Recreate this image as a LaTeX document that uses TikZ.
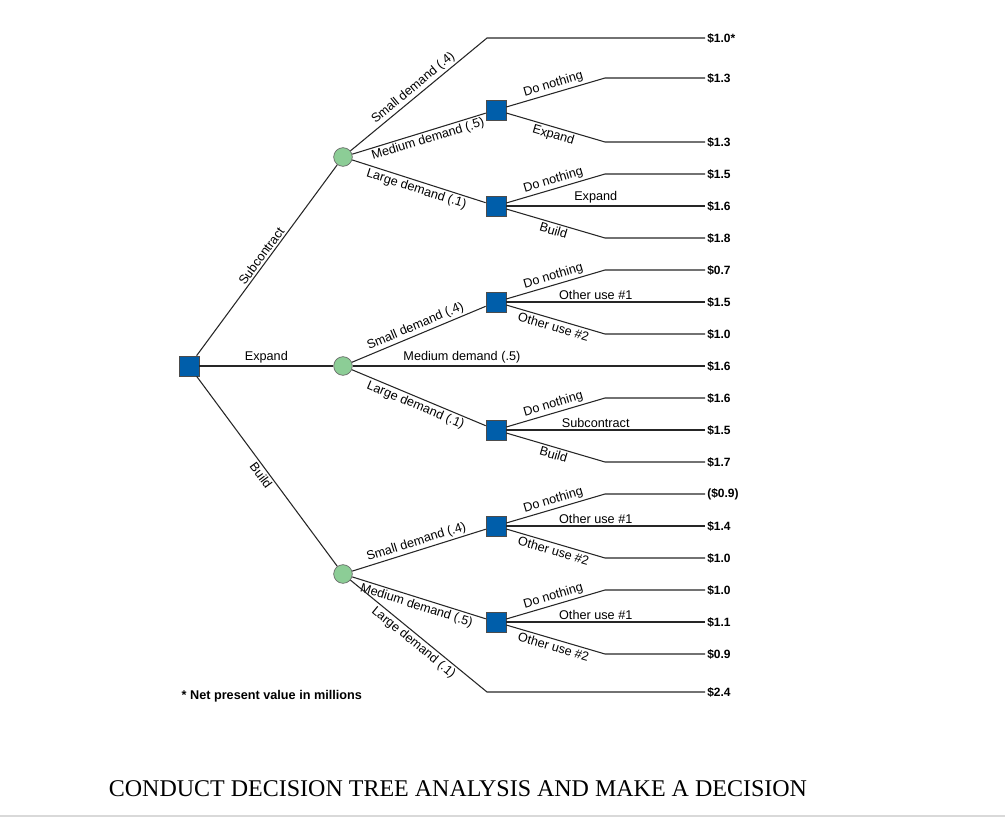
\documentclass[tikz,border=0pt]{standalone}
\usepackage{fontspec}
\setmainfont{Liberation Sans}
\newfontfamily\ser{Liberation Serif}
\begin{document}
\begin{tikzpicture}[x=0.75pt,y=-0.75pt,
  br/.style={draw=black!85,line width=0.8pt},
  dec/.style={draw=black!70,minimum size=15pt,inner sep=0pt,line width=0.5pt},
  chn/.style={circle,draw=black!60,minimum size=14pt,inner sep=0pt,line width=0.5pt},
  lab/.style={font=\fontsize{9.5}{10}\selectfont,sloped,inner sep=1.5pt},
  val/.style={font=\bfseries\fontsize{9}{10}\selectfont,anchor=west,inner sep=1.5pt}]
\useasboundingbox (0,0) rectangle (1005,821);
\definecolor{dblue}{RGB}{0,94,170}
\definecolor{lgreen}{RGB}{140,205,150}
\tikzset{dec/.append style={fill=dblue},chn/.append style={fill=lgreen}}
% nodes
\node[dec] (r) at (189,366) {};
\node[chn] (c1) at (343,157) {};
\node[chn] (c2) at (343,366) {};
\node[chn] (c3) at (343,574) {};
\node[dec] (d1) at (496,110) {};
\node[dec] (d2) at (496,206) {};
\node[dec] (d3) at (496,302) {};
\node[dec] (d4) at (496,430) {};
\node[dec] (d5) at (496,526) {};
\node[dec] (d6) at (496,622) {};
% leaf coordinates
\foreach \i/\y in {1/38,2/78,3/142,4/174,5/206,6/238,7/270,8/302,9/334,10/366,11/398,12/430,13/462,14/494,15/526,16/558,17/590,18/622,19/654,20/692}
  {\coordinate (e\i) at (705,\y); \coordinate (k\i) at (605,\y);}
\coordinate (s1) at (487,38);
\coordinate (s20) at (487,692);
% root
\draw[br] (r) -- node[lab,above]{Subcontract} (c1);
\draw[br] (r) -- node[lab,above]{Expand} (c2);
\draw[br] (r) -- node[lab,below]{Build} (c3);
% circle 1
\draw[br] (c1) -- node[lab,above]{Small demand (.4)} (s1) -- (e1);
\draw[br] (c1) -- node[lab,below,pos=0.55]{Medium demand (.5)} (d1);
\draw[br] (c1) -- node[lab,below]{Large demand (.1)} (d2);
% circle 2
\draw[br] (c2) -- node[lab,above]{Small demand (.4)} (d3);
\draw[br] (c2) -- node[lab,above,pos=0.31]{Medium demand (.5)} (e10);
\draw[br] (c2) -- node[lab,below]{Large demand (.1)} (d4);
% circle 3
\draw[br] (c3) -- node[lab,above]{Small demand (.4)} (d5);
\draw[br] (c3) -- node[lab,below]{Medium demand (.5)} (d6);
\draw[br] (c3) -- node[lab,below]{Large demand (.1)} (s20) -- (e20);
% d1
\draw[br] (d1) -- node[lab,above]{Do nothing} (k2) -- (e2);
\draw[br] (d1) -- node[lab,below]{Expand} (k3) -- (e3);
% d2
\draw[br] (d2) -- node[lab,above]{Do nothing} (k4) -- (e4);
\draw[br] (d2) -- node[lab,above,pos=0.45]{Expand} (e5);
\draw[br] (d2) -- node[lab,below]{Build} (k6) -- (e6);
% d3
\draw[br] (d3) -- node[lab,above]{Do nothing} (k7) -- (e7);
\draw[br] (d3) -- node[lab,above,pos=0.45]{Other use \#1} (e8);
\draw[br] (d3) -- node[lab,below]{Other use \#2} (k9) -- (e9);
% d4
\draw[br] (d4) -- node[lab,above]{Do nothing} (k11) -- (e11);
\draw[br] (d4) -- node[lab,above,pos=0.45]{Subcontract} (e12);
\draw[br] (d4) -- node[lab,below]{Build} (k13) -- (e13);
% d5
\draw[br] (d5) -- node[lab,above]{Do nothing} (k14) -- (e14);
\draw[br] (d5) -- node[lab,above,pos=0.45]{Other use \#1} (e15);
\draw[br] (d5) -- node[lab,below]{Other use \#2} (k16) -- (e16);
% d6
\draw[br] (d6) -- node[lab,above]{Do nothing} (k17) -- (e17);
\draw[br] (d6) -- node[lab,above,pos=0.45]{Other use \#1} (e18);
\draw[br] (d6) -- node[lab,below]{Other use \#2} (k19) -- (e19);
% values
\foreach \i/\t in {1/{\$1.0*},2/{\$1.3},3/{\$1.3},4/{\$1.5},5/{\$1.6},6/{\$1.8},7/{\$0.7},8/{\$1.5},9/{\$1.0},10/{\$1.6},11/{\$1.6},12/{\$1.5},13/{\$1.7},14/{(\$0.9)},15/{\$1.4},16/{\$1.0},17/{\$1.0},18/{\$1.1},19/{\$0.9},20/{\$2.4}}
  \node[val] (v\i) at (e\i) {\t};
\node[font=\bfseries\fontsize{9.5}{10}\selectfont,anchor=west] (fn) at (177,696) {* Net present value in millions};
\node[font=\ser\fontsize{18}{20}\selectfont] (title) at (458,789) {CONDUCT DECISION TREE ANALYSIS AND MAKE A DECISION};
\draw[black!15,line width=1pt] (0,816) -- (1005,816);
\end{tikzpicture}
\end{document}
